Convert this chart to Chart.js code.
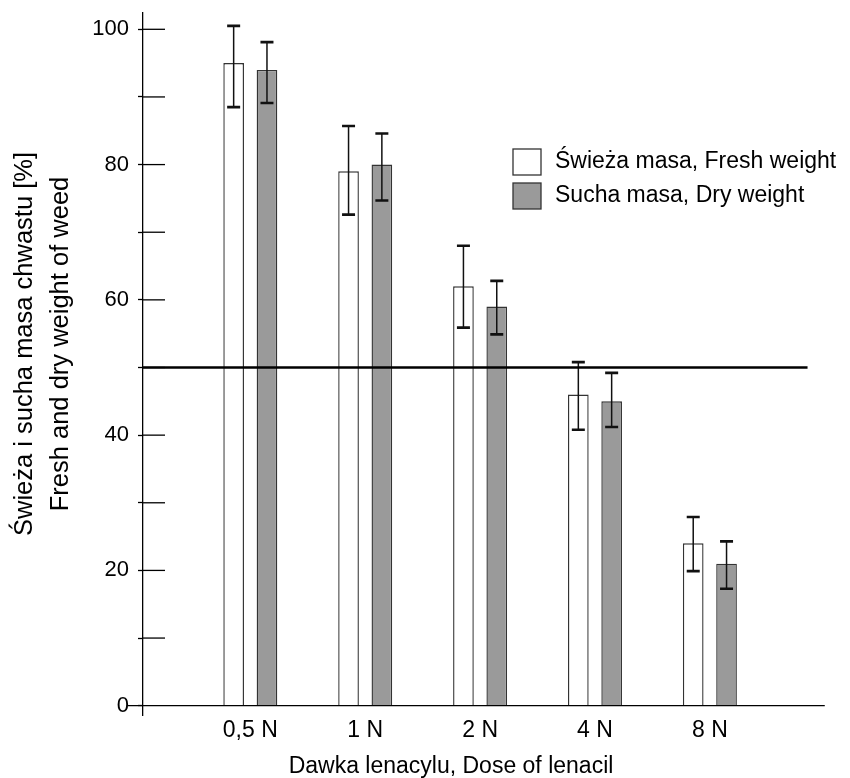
<!DOCTYPE html>
<html>
<head>
<meta charset="utf-8">
<script src="https://cdn.jsdelivr.net/npm/chart.js@4/dist/chart.umd.min.js"></script>
<style>
  html, body { margin: 0; padding: 0; background: #fff; }
  #wrap { width: 850px; height: 778px; }
</style>
</head>
<body>
<div id="wrap"><canvas id="weedChart"></canvas></div>
<script>
// values
const doseLabels = ['0,5 N', '1 N', '2 N', '4 N', '8 N'];
const freshWeight = [95, 79, 62, 46, 24];
const freshErrLow = [88.5, 72.6, 55.9, 40.8, 19.9];
const freshErrHigh = [100.5, 85.7, 68.0, 50.8, 27.9];
const dryWeight = [94, 80, 59, 45, 21];
const dryErrLow = [89.1, 74.7, 54.9, 41.2, 17.3];
const dryErrHigh = [98.1, 84.6, 62.8, 49.2, 24.3];
const yTickValues = [0, 10, 20, 30, 40, 50, 60, 70, 80, 90, 100];
const yTickLabels = ['0', '', '20', '', '40', '', '60', '', '80', '', '100'];
const referenceLevel = 50;
const yTitleLines = ['Świeża i sucha masa chwastu [%]', 'Fresh and dry weight of weed'];
const xTitle = 'Dawka lenacylu, Dose of lenacil';

const FONT = "'Liberation Sans', Arial, Helvetica, sans-serif";
Chart.defaults.font.family = FONT;
Chart.defaults.color = '#000';

const toPoints = (vals) => vals.map((v, i) => ({ x: i + 1, y: v }));

// error bars, reference line, inner ticks, zero axis, legend, y title
const extras = {
  id: 'extras',
  afterDatasetsDraw(chart) {
    const { ctx, chartArea, scales: { x, y } } = chart;
    ctx.save();

    // error bars
    chart.data.datasets.forEach((ds, di) => {
      const meta = chart.getDatasetMeta(di);
      meta.data.forEach((bar, i) => {
        const yt = y.getPixelForValue(ds.errHigh[i]);
        const yb = y.getPixelForValue(ds.errLow[i]);
        ctx.strokeStyle = '#111';
        ctx.lineWidth = 1.5;
        ctx.beginPath();
        ctx.moveTo(bar.x, yt);
        ctx.lineTo(bar.x, yb);
        ctx.stroke();
        ctx.lineWidth = 2.6;
        ctx.beginPath();
        ctx.moveTo(bar.x - 6.5, yt); ctx.lineTo(bar.x + 6.5, yt);
        ctx.moveTo(bar.x - 6.5, yb); ctx.lineTo(bar.x + 6.5, yb);
        ctx.stroke();
      });
    });

    // 50 % reference line
    const yr = y.getPixelForValue(referenceLevel);
    ctx.strokeStyle = '#000';
    ctx.lineWidth = 2.5;
    ctx.beginPath();
    ctx.moveTo(chartArea.left, yr);
    ctx.lineTo(x.getPixelForValue(5.85), yr);
    ctx.stroke();

    // x axis at zero
    const y0 = y.getPixelForValue(0);
    ctx.lineWidth = 1.3;
    ctx.beginPath();
    ctx.moveTo(chartArea.left - 15, y0);
    ctx.lineTo(x.getPixelForValue(6), y0);
    ctx.stroke();

    // inward tick marks on the y axis
    yTickValues.forEach((v) => {
      if (v === 0) return;
      const py = y.getPixelForValue(v);
      ctx.beginPath();
      ctx.moveTo(chartArea.left, py);
      ctx.lineTo(chartArea.left + 22, py);
      ctx.stroke();
    });

    // legend
    const lx = chartArea.left + 370;
    let ly = chartArea.top + 136;
    ctx.font = '23px ' + FONT;
    ctx.textBaseline = 'middle';
    ctx.textAlign = 'left';
    chart.data.datasets.forEach((ds) => {
      ctx.fillStyle = ds.backgroundColor;
      ctx.fillRect(lx, ly, 28, 26);
      ctx.strokeStyle = '#333';
      ctx.lineWidth = 1.3;
      ctx.strokeRect(lx, ly, 28, 26);
      ctx.fillStyle = '#000';
      ctx.fillText(ds.label, lx + 42, ly + 13);
      ly += 34;
    });

    // y axis title
    ctx.translate(0, (chartArea.top + chartArea.bottom) / 2 - 20);
    ctx.rotate(-Math.PI / 2);
    ctx.textAlign = 'center';
    ctx.font = '25.5px ' + FONT;
    ctx.fillText(yTitleLines[0], 0, 25);
    ctx.fillText(yTitleLines[1], 0, 61);
    ctx.restore();
  }
};

new Chart(document.getElementById('weedChart'), {
  type: 'bar',
  data: {
    datasets: [{
      label: 'Świeża masa, Fresh weight',
      data: toPoints(freshWeight),
      errLow: freshErrLow,
      errHigh: freshErrHigh,
      backgroundColor: '#ffffff',
      borderColor: '#333333',
      borderWidth: 1.4
    }, {
      label: 'Sucha masa, Dry weight',
      data: toPoints(dryWeight),
      errLow: dryErrLow,
      errHigh: dryErrHigh,
      backgroundColor: '#9a9a9a',
      borderColor: '#333333',
      borderWidth: 1.4
    }]
  },
  options: {
    responsive: true,
    maintainAspectRatio: false,
    animation: false,
    categoryPercentage: 0.58,
    barPercentage: 0.62,
    layout: { padding: { top: 13, right: 91, left: 0, bottom: 0 } },
    plugins: {
      legend: { display: false },
      tooltip: { enabled: false }
    },
    scales: {
      x: {
        type: 'linear',
        offset: false,
        min: 0.066,
        max: 5.4275,
        afterBuildTicks: (s) => { s.ticks = doseLabels.map((_, i) => ({ value: i + 1 })); },
        afterFit: (s) => { s.height = 63; s.paddingLeft = 0; s.paddingRight = 0; },
        ticks: {
          callback: (v, i) => doseLabels[i],
          font: { size: 23 },
          padding: 2,
          maxRotation: 0,
          autoSkip: false
        },
        grid: { display: false, drawTicks: false, offset: false },
        border: { display: false },
        title: {
          display: true,
          text: xTitle,
          font: { size: 23, lineHeight: 1 },
          padding: { top: 0, bottom: 0 }
        }
      },
      y: {
        min: -1.375,
        max: 102.41,
        afterBuildTicks: (s) => { s.ticks = yTickValues.map((v) => ({ value: v })); },
        afterFit: (s) => { s.width = 143; s.paddingTop = 0; s.paddingBottom = 0; },
        ticks: {
          callback: (v, i) => yTickLabels[i],
          font: { size: 22 },
          padding: 9,
          autoSkip: false
        },
        grid: {
          drawOnChartArea: false,
          drawTicks: true,
          tickLength: 5,
          tickWidth: 1.3,
          color: '#000'
        },
        border: { display: true, color: '#000', width: 1.3 }
      }
    }
  },
  plugins: [extras]
});
</script>
</body>
</html>
